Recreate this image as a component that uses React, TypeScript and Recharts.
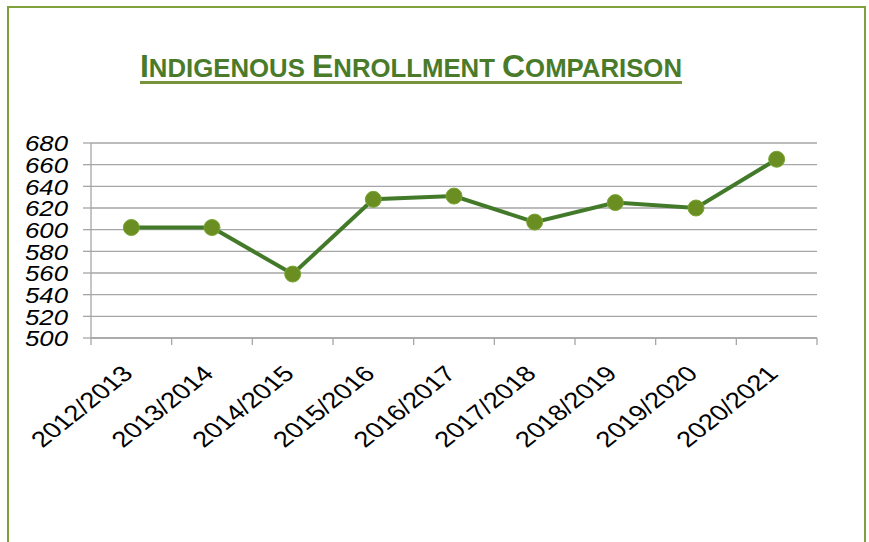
import React from 'react';
import { CartesianGrid, Line, LineChart, XAxis, YAxis } from 'recharts';

const seasons = [
  '2012/2013',
  '2013/2014',
  '2014/2015',
  '2015/2016',
  '2016/2017',
  '2017/2018',
  '2018/2019',
  '2019/2020',
  '2020/2021',
];
const enrollment = [602, 602, 559, 628, 631, 607, 625, 620, 665];
const yTicks = [500, 520, 540, 560, 580, 600, 620, 640, 660, 680];

const W = 869;
const H = 542;
const MARGIN = { top: 143, right: 52, bottom: 84, left: 0 };
const Y_AXIS_W = 91;
const X_AXIS_H = 120;
const AXIS_Y = H - MARGIN.bottom - X_AXIS_H;
const BAND = (W - MARGIN.left - MARGIN.right - Y_AXIS_W) / seasons.length;

const GRID = '#a6a6a6';
const LINE = '#437a2a';
const DOT = '#6b8e23';
const FONT = "'Liberation Sans', Arial, sans-serif";

const rows = seasons.map((season, i) => ({ season, value: enrollment[i] }));

function XTick({ x, payload, index }: any) {
  const half = BAND / 2;
  return (
    <g>
      <line x1={x - half} x2={x - half} y1={AXIS_Y} y2={AXIS_Y + 7} stroke={GRID} strokeWidth={1.3} />
      {index === seasons.length - 1 && (
        <line x1={x + half} x2={x + half} y1={AXIS_Y} y2={AXIS_Y + 7} stroke={GRID} strokeWidth={1.3} />
      )}
      <g transform={`translate(${x + 3},${AXIS_Y + 37}) scale(1.25,1) rotate(-45)`}>
        <text textAnchor="end" fontSize={22} fontFamily={FONT} fill="#000">
          {payload.value}
        </text>
      </g>
    </g>
  );
}

function YTick({ y, payload }: any) {
  return (
    <g transform={`translate(68,${y}) scale(1.12,1)`}>
      <text textAnchor="end" dy="0.36em" fontSize={23} fontStyle="italic" fontFamily={FONT} fill="#000">
        {payload.value}
      </text>
    </g>
  );
}

export default function App() {
  return (
    <div style={{ position: 'absolute', left: 0, top: 0, width: W, height: H, overflow: 'hidden', background: '#fff' }}>
      <div
        style={{
          position: 'absolute',
          left: 7,
          top: 6,
          width: 855,
          height: 600,
          border: '2px solid #7ea13b',
          borderBottom: 'none',
        }}
      />
      <div style={{ position: 'absolute', left: 0, top: 0 }}>
        <LineChart width={W} height={H} data={rows} margin={MARGIN}>
          <text x={140} y={77} textLength={542} lengthAdjust="spacingAndGlyphs" fontFamily={FONT} fontWeight="bold" fill="#4a7b2a">
            <tspan fontSize={31}>I</tspan>
            <tspan fontSize={25}>NDIGENOUS </tspan>
            <tspan fontSize={31}>E</tspan>
            <tspan fontSize={25}>NROLLMENT </tspan>
            <tspan fontSize={31}>C</tspan>
            <tspan fontSize={25}>OMPARISON</tspan>
          </text>
          <rect x={140} y={81} width={542} height={3} fill="#77933c" />
          <CartesianGrid vertical={false} stroke={GRID} strokeWidth={1.3} />
          <XAxis
            dataKey="season"
            scale="band"
            interval={0}
            height={X_AXIS_H}
            tickLine={false}
            axisLine={{ stroke: GRID, strokeWidth: 1.3 }}
            tick={<XTick />}
          />
          <YAxis
            width={Y_AXIS_W}
            domain={[500, 680]}
            ticks={yTicks}
            interval={0}
            tickSize={8}
            tickLine={{ stroke: GRID, strokeWidth: 1.3 }}
            axisLine={{ stroke: GRID, strokeWidth: 1.3 }}
            tick={<YTick />}
          />
          <Line
            type="linear"
            dataKey="value"
            stroke={LINE}
            strokeWidth={4}
            dot={{ r: 8, fill: DOT, stroke: '#7aa534', strokeWidth: 1 }}
            isAnimationActive={false}
          />
        </LineChart>
      </div>
    </div>
  );
}
